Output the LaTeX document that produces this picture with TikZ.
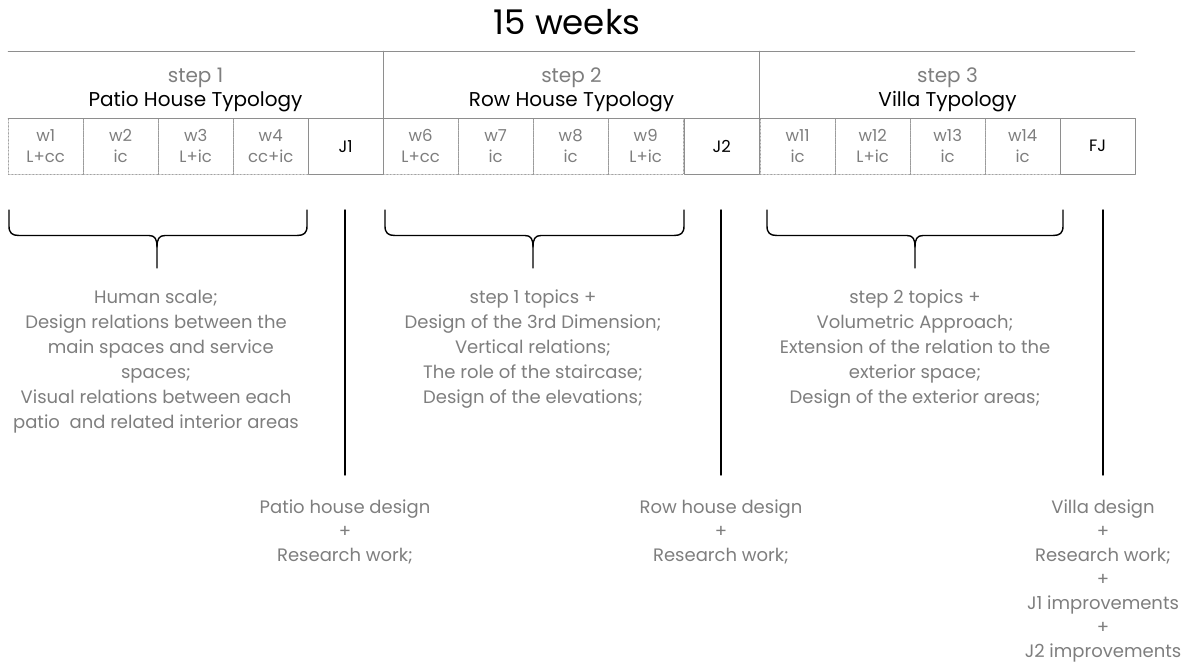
\documentclass[tikz,border=0pt]{standalone}
\usepackage{fontspec}
\setmainfont{Poppins}
\usetikzlibrary{positioning}
\definecolor{txtgray}{HTML}{7E7E7E}
\definecolor{linegray}{HTML}{8E8E8E}
\tikzset{
  every picture/.style={line cap=round, line join=round},
  weekcell/.style={draw=linegray, densely dotted, minimum width=75pt, minimum height=56pt,
    inner sep=0pt, anchor=north west, align=center, text=txtgray,
    font=\fontsize{16.5}{21}\selectfont},
  jurybox/.style={weekcell, solid, text=black, font=\fontsize{16.5}{18}\selectfont},
  steplbl/.style={text=txtgray, inner sep=0pt, anchor=base, font=\fontsize{20}{22}\selectfont},
  typlbl/.style={text=black, inner sep=0pt, anchor=base, font=\fontsize{20}{22}\selectfont},
  topics/.style={text=txtgray, inner sep=0pt, anchor=north, align=center,
    font=\fontsize{18}{25}\selectfont},
  result/.style={topics, font=\fontsize{18}{24}\selectfont},
  juryline/.style={line width=1.4pt},
  bracepath/.style={line width=1.4pt},
}
% brace under the weeks of one step: left x, right x, tip x
\newcommand\stepbrace[3]{%
  \draw[bracepath] (#1,210) -- (#1,226) .. controls (#1,233) and (#1+3,235.5) .. (#1+10,235.5)
    -- (#3-8,235.5) .. controls (#3-2,235.5) and (#3,239) .. (#3,247) -- (#3,268);
  \draw[bracepath] (#2,210) -- (#2,226) .. controls (#2,233) and (#2-3,235.5) .. (#2-10,235.5)
    -- (#3+8,235.5) .. controls (#3+2,235.5) and (#3,239) .. (#3,247);
}

\begin{document}
\begin{tikzpicture}[x=1pt, y=-1pt]
  \useasboundingbox (0,0) rectangle (1184,665);
  \node[font=\fontsize{34}{36}\selectfont, inner sep=0pt, anchor=base] (title) at (567,34) {15 weeks};

  % week cells
  \node[weekcell] (w1) at (8,118) {w1\\L+cc};
  \node[weekcell] (w2) at (83,118) {w2\\ic};
  \node[weekcell] (w3) at (158,118) {w3\\L+ic};
  \node[weekcell] (w4) at (233,118) {w4\\cc+ic};
  \node[jurybox] (j1) at (308,118) {J1};
  \node[weekcell] (w6) at (383,118) {w6\\L+cc};
  \node[weekcell] (w7) at (458,118) {w7\\ic};
  \node[weekcell] (w8) at (533,118) {w8\\ic};
  \node[weekcell] (w9) at (608,118) {w9\\L+ic};
  \node[jurybox] (j2) at (684,118) {J2};
  \node[weekcell] (w11) at (760,118) {w11\\ic};
  \node[weekcell] (w12) at (835,118) {w12\\L+ic};
  \node[weekcell] (w13) at (910,118) {w13\\ic};
  \node[weekcell] (w14) at (985,118) {w14\\ic};
  \node[jurybox] (fj) at (1060,118) {FJ};

  % header frame
  \draw[linegray] (8,51) -- (1135,51);
  \draw[linegray] (w1.north west) -- (fj.north east);
  \draw[linegray] (j1.north east) -- ++(0,-67);
  \draw[linegray] (j2.north east) -- ++(0,-67);

  % steps
  \node[steplbl] (s1) at (195.5,82) {step 1};
  \node[typlbl] (t1) at (195.5,106) {Patio House Typology};
  \node[steplbl] (s2) at (571.5,82) {step 2};
  \node[typlbl] (t2) at (571.5,106) {Row House Typology};
  \node[steplbl] (s3) at (947.5,82) {step 3};
  \node[typlbl] (t3) at (947.5,106) {Villa Typology};

  % braces and jury marks
  \stepbrace{9}{307}{157}
  \stepbrace{385}{684}{533}
  \stepbrace{767}{1063}{915}
  \coordinate (m1a) at (345,210); \coordinate (m1b) at (345,475);
  \coordinate (m2a) at (721,210); \coordinate (m2b) at (721,475);
  \coordinate (m3a) at (1103,210); \coordinate (m3b) at (1103,475);
  \draw[juryline] (m1a) -- (m1b);
  \draw[juryline] (m2a) -- (m2b);
  \draw[juryline] (m3a) -- (m3b);

  % topics
  \node[topics] (d1) at (156,290) {Human scale;\\Design relations between the\\
    \ \ main spaces and service\\spaces;\\Visual relations between each\\patio\ \ and related interior areas};
  \node[topics] (d2) at (533,290) {step 1 topics +\\Design of the 3rd Dimension;\\Vertical relations;\\
    The role of the staircase;\\Design of the elevations;};
  \node[topics] (d3) at (915,290) {step 2 topics +\\Volumetric Approach;\\Extension of the relation to the\\
    exterior space;\\Design of the exterior areas;};

  % results
  \node[result] (r1) at (345,500) {Patio house design\\+\\Research work;};
  \node[result] (r2) at (721,500) {Row house design\\+\\Research work;};
  \node[result] (r3) at (1103,500) {Villa design\\+\\Research work;\\+\\J1 improvements\\+\\J2 improvements};
\end{tikzpicture}
\end{document}
